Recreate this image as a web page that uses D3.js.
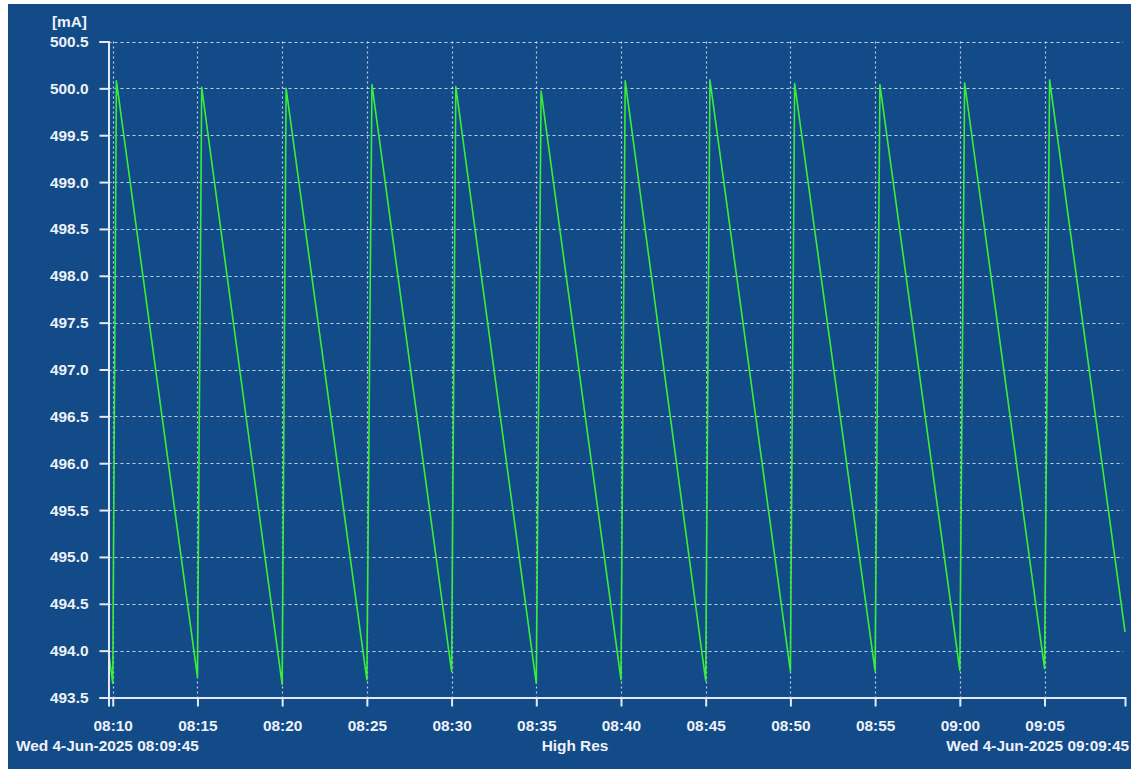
<!DOCTYPE html>
<html>
<head>
<meta charset="utf-8">
<script src="https://cdn.jsdelivr.net/npm/d3@7"></script>
<style>
  html, body { margin: 0; padding: 0; background: #ffffff; overflow: hidden; }
  svg { display: block; }
  text { font-family: "Liberation Sans", Arial, Helvetica, sans-serif; font-weight: bold; fill: #eef2f8; }
</style>
</head>
<body>
<script>
// ---- data ----
const times = [
  "08:09:45", "08:10:00", "08:10:13",
  "08:15:00", "08:15:15",
  "08:20:00", "08:20:14",
  "08:25:00", "08:25:18",
  "08:30:00", "08:30:15",
  "08:35:00", "08:35:17",
  "08:40:00", "08:40:15",
  "08:45:00", "08:45:15",
  "08:50:00", "08:50:15",
  "08:55:00", "08:55:17",
  "09:00:00", "09:00:17",
  "09:05:00", "09:05:18",
  "09:09:45"
];
const values = [
  494.00, 493.65, 500.08,
  493.72, 500.01,
  493.64, 500.00,
  493.69, 500.04,
  493.78, 500.02,
  493.65, 499.97,
  493.69, 500.08,
  493.68, 500.09,
  493.78, 500.05,
  493.78, 500.04,
  493.79, 500.06,
  493.81, 500.09,
  494.20
];
const yTicks = [493.5, 494.0, 494.5, 495.0, 495.5, 496.0, 496.5, 497.0, 497.5, 498.0, 498.5, 499.0, 499.5, 500.0, 500.5];
const xTickLabels = ["08:10", "08:15", "08:20", "08:25", "08:30", "08:35", "08:40", "08:45", "08:50", "08:55", "09:00", "09:05"];
const startLabel = "Wed 4-Jun-2025 08:09:45";
const endLabel = "Wed 4-Jun-2025 09:09:45";
const centerLabel = "High Res";
const unitLabel = "[mA]";
const xDomain = ["08:09:45", "09:09:45"];
const yDomain = [493.5, 500.5];

// ---- layout ----
const W = 1131, H = 769;
const FS = "15.4px";
const parse = d3.timeParse("%H:%M:%S");
const parseHM = d3.timeParse("%H:%M");
const plot = { left: 108.5, right: 1125, top: 41.5, bottom: 697.5 };

const svg = d3.select("body").append("svg").attr("width", W).attr("height", H);
svg.append("rect").attr("x", 8).attr("y", 4).attr("width", W - 8).attr("height", H - 4).attr("fill", "#134b89");

const x = d3.scaleTime().domain(xDomain.map(parse)).range([plot.left, plot.right]);
const y = d3.scaleLinear().domain(yDomain).range([plot.bottom, plot.top]);

const xTickDates = xTickLabels.map(parseHM);

// gridlines
const grid = svg.append("g");
grid.selectAll("line.h").data(yTicks.slice(1)).join("line")
  .attr("x1", plot.left).attr("x2", plot.right - 2)
  .attr("y1", d => Math.round(y(d)) + 0.5).attr("y2", d => Math.round(y(d)) + 0.5)
  .attr("stroke", "rgba(225,232,242,0.85)").attr("stroke-width", 1.2)
  .attr("stroke-dasharray", "3,3");
grid.selectAll("line.v").data(xTickDates).join("line")
  .attr("x1", d => Math.round(x(d)) + 0.5).attr("x2", d => Math.round(x(d)) + 0.5)
  .attr("y1", plot.top).attr("y2", plot.bottom)
  .attr("stroke", "rgba(225,232,242,0.85)").attr("stroke-width", 1.2)
  .attr("stroke-dasharray", "2,3");

// line
const data = times.map((t, i) => ({ t: parse(t), v: values[i] }));
svg.append("path").datum(data)
  .attr("fill", "none").attr("stroke", "#38ee38").attr("stroke-width", 1.6)
  .attr("stroke-linejoin", "round")
  .attr("d", d3.line().x(d => x(d.t)).y(d => y(d.v)));

// axes
const yAxis = d3.axisLeft(y).tickValues(yTicks).tickFormat(d3.format(".1f")).tickSize(9).tickSizeOuter(9).tickPadding(11);
const gy = svg.append("g").attr("transform", `translate(${plot.left},0)`).call(yAxis);
const xAxis = d3.axisBottom(x).tickValues(xTickDates).tickFormat(d3.timeFormat("%H:%M")).tickSize(9).tickSizeOuter(9).tickPadding(14);
const gx = svg.append("g").attr("transform", `translate(0,${plot.bottom})`).call(xAxis);

[gx, gy].forEach(g => {
  g.selectAll("path.domain").attr("stroke", "#e4eaf2").attr("stroke-width", 2);
  g.selectAll(".tick line").attr("stroke", "#e4eaf2").attr("stroke-width", 2);
  g.selectAll("text").attr("fill", "#eef2f8").style("font-size", FS)
    .style("font-family", "'Liberation Sans', Arial, sans-serif").style("font-weight", "bold");
});

// labels
svg.append("text").attr("x", 87).attr("y", 27).attr("text-anchor", "end").style("font-size", FS).text(unitLabel);
svg.append("text").attr("x", 16).attr("y", 751).attr("text-anchor", "start").style("font-size", FS).text(startLabel);
svg.append("text").attr("x", 575).attr("y", 751).attr("text-anchor", "middle").style("font-size", FS).text(centerLabel);
svg.append("text").attr("x", 1129).attr("y", 751).attr("text-anchor", "end").style("font-size", FS).text(endLabel);
</script>
</body>
</html>
